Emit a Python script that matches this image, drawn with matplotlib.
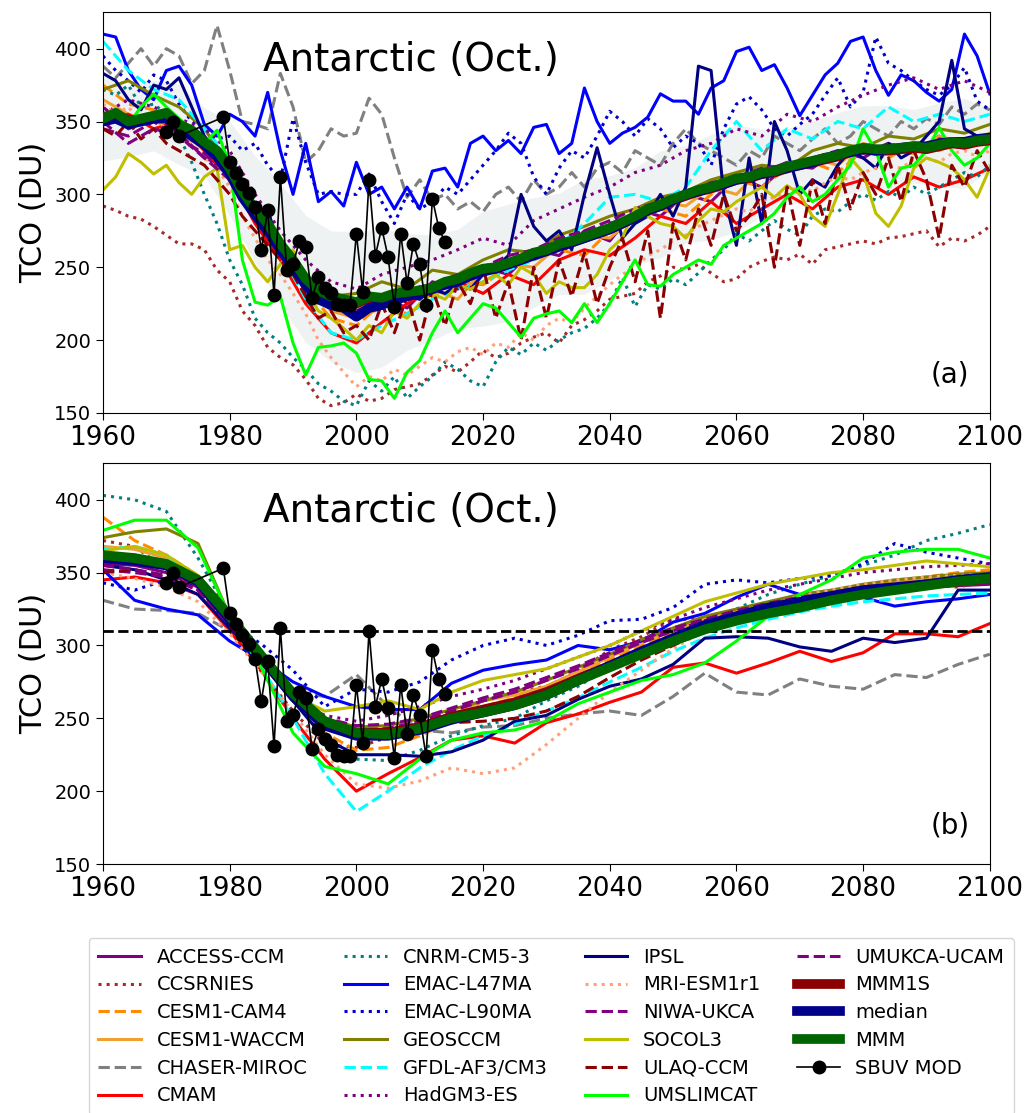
import matplotlib
matplotlib.use('Agg')
import matplotlib.pyplot as plt
import numpy as np

# Antarctic October total column ozone: raw model years (a) and smoothed, 1980-adjusted (b)
years_a2 = np.arange(1960, 2101, 2)
years_a4 = np.arange(1960, 2101, 4)
years_b = np.arange(1960, 2101, 5)

# ---- panel (a), two-year sampling ----
emac47_a = [410, 408, 385, 372, 365, 385, 388, 375, 348, 340, 355, 350, 340, 370, 330,
            300, 335, 295, 302, 292, 322, 300, 305, 290, 305, 290, 316, 318, 305, 335,
            340, 330, 337, 328, 346, 348, 328, 335, 373, 350, 335, 342, 346, 353, 369,
            364, 364, 355, 373, 378, 398, 401, 385, 389, 373, 354, 368, 382, 390, 405,
            408, 385, 368, 382, 378, 370, 364, 372, 410, 395, 369]
emac90_a = [395, 385, 378, 370, 382, 378, 362, 350, 345, 338, 340, 330, 335, 320, 310,
            352, 322, 300, 302, 300, 300, 314, 295, 280, 300, 290, 295, 305, 300, 310,
            320, 330, 342, 335, 312, 300, 318, 330, 325, 340, 357, 350, 340, 352, 345,
            332, 340, 335, 320, 345, 362, 367, 358, 345, 340, 348, 355, 368, 380, 360,
            370, 408, 390, 385, 378, 372, 368, 375, 387, 364, 358]
ipsl_a = [383, 378, 365, 358, 375, 372, 380, 360, 340, 330, 320, 300, 285, 290, 260,
          250, 232, 228, 225, 222, 215, 220, 225, 222, 230, 228, 235, 232, 238, 235,
          245, 250, 258, 300, 278, 268, 275, 262, 300, 332, 300, 270, 280, 285, 300,
          285, 305, 388, 385, 300, 265, 325, 280, 350, 330, 300, 310, 305, 320, 330,
          325, 318, 335, 325, 330, 340, 350, 392, 345, 340, 338]
chaser_a = [388, 380, 390, 400, 388, 400, 395, 376, 385, 416, 385, 350, 348, 345, 383,
            360, 322, 330, 345, 340, 342, 366, 355, 325, 298, 310, 296, 300, 290, 295,
            288, 300, 305, 295, 310, 300, 305, 315, 305, 318, 322, 315, 330, 325, 320,
            335, 345, 335, 330, 325, 320, 330, 325, 340, 335, 330, 338, 345, 335, 340,
            350, 345, 340, 350, 345, 352, 348, 360, 355, 362, 358]
ccsrnies_a = [292, 289, 285, 283, 278, 272, 266, 266, 262, 248, 240, 220, 210, 195, 188,
              183, 173, 160, 155, 157, 163, 158, 160, 166, 168, 170, 176, 182, 178, 185,
              193, 188, 191, 198, 202, 205, 198, 210, 214, 220, 228, 230, 232, 240, 244,
              250, 248, 252, 246, 240, 242, 250, 254, 257, 255, 259, 252, 262, 264, 266,
              268, 266, 270, 271, 273, 275, 264, 270, 268, 272, 278]
cnrm_a = [372, 368, 375, 360, 362, 355, 340, 322, 300, 280, 255, 238, 215, 205, 198,
          188, 180, 170, 165, 158, 155, 172, 165, 175, 160, 168, 175, 185, 180, 172,
          168, 185, 195, 190, 198, 193, 200, 205, 208, 215, 225, 243, 223, 238, 235,
          242, 238, 246, 255, 262, 273, 268, 275, 282, 276, 272, 285, 290, 288, 295,
          300, 296, 302, 298, 305, 300, 305, 310, 315, 312, 320]
umslimcat_a = [352, 355, 348, 360, 369, 360, 352, 345, 335, 344, 320, 255, 226, 224, 230,
               198, 176, 195, 196, 198, 191, 173, 172, 160, 178, 186, 205, 220, 205, 215,
               225, 222, 212, 202, 215, 218, 220, 212, 225, 212, 225, 240, 255, 238, 237,
               245, 250, 255, 252, 265, 270, 275, 280, 287, 298, 305, 295, 300, 310, 320,
               345, 330, 305, 318, 320, 330, 346, 330, 320, 325, 335]
socol3_a = [303, 312, 328, 322, 314, 320, 308, 300, 312, 318, 262, 265, 250, 240, 252,
            262, 235, 220, 215, 208, 200, 210, 205, 220, 215, 225, 232, 228, 238, 235,
            240, 245, 238, 250, 245, 232, 240, 236, 236, 245, 262, 270, 291, 285, 280,
            278, 270, 282, 290, 288, 295, 300, 305, 298, 306, 300, 285, 278, 300, 325,
            315, 287, 278, 292, 318, 325, 322, 318, 310, 298, 318]
ulaq_a = [345, 340, 350, 338, 345, 335, 330, 325, 320, 310, 300, 285, 275, 265, 255,
          245, 230, 215, 220, 205, 210, 200, 225, 205, 230, 200, 235, 210, 240, 225,
          250, 215, 240, 200, 250, 215, 255, 230, 260, 225, 250, 270, 240, 275, 215,
          280, 255, 290, 265, 300, 275, 285, 300, 250, 305, 265, 310, 280, 320, 290,
          315, 300, 325, 295, 330, 310, 270, 320, 305, 330, 315]
mri_a = [362, 355, 360, 350, 352, 345, 340, 335, 325, 318, 305, 285, 270, 255, 245,
         232, 218, 200, 188, 178, 168, 175, 172, 180, 176, 182, 188, 185, 192, 195,
         190, 198, 195, 205, 200, 210, 215, 212, 222, 230, 238, 245, 250, 258, 262,
         268, 272, 278, 282, 286, 290, 288, 295, 298, 302, 305, 302, 308, 312, 310,
         315, 318, 320, 318, 324, 325, 322, 328, 330, 326, 330]
mmm_a = [352, 356, 350, 352, 354, 356, 348, 344, 336, 330, 318, 302, 290, 280, 266,
         255, 242, 234, 230, 228, 226, 230, 229, 232, 233, 234, 236, 240, 242, 246,
         249, 250, 253, 256, 260, 262, 266, 268, 271, 274, 277, 281, 285, 290, 293,
         297, 300, 303, 305, 308, 311, 312, 315, 316, 319, 321, 323, 325, 327, 330,
         332, 331, 331, 332, 333, 332, 334, 336, 335, 337, 338]
median_a = [350, 352, 348, 350, 352, 352, 346, 340, 334, 326, 314, 298, 286, 275, 262,
            250, 238, 228, 224, 222, 216, 222, 224, 228, 230, 232, 235, 238, 240, 244,
            247, 249, 252, 255, 258, 261, 264, 267, 270, 273, 276, 280, 284, 289, 292,
            296, 300, 302, 305, 307, 310, 312, 314, 316, 318, 320, 322, 325, 327, 329,
            331, 330, 331, 332, 333, 333, 335, 336, 336, 338, 339]
mmm1s_a = [353, 355, 351, 351, 353, 355, 347, 343, 335, 329, 317, 301, 289, 279, 265,
           254, 241, 233, 229, 227, 225, 229, 228, 231, 232, 233, 235, 239, 241, 245,
           248, 249, 252, 255, 259, 261, 265, 267, 270, 273, 276, 280, 284, 289, 292,
           296, 299, 302, 304, 307, 310, 311, 314, 315, 318, 320, 322, 324, 326, 329,
           331, 330, 330, 331, 332, 331, 333, 335, 334, 336, 337]

# ---- panel (a), four-year sampling ----
access_a = [360, 345, 352, 342, 325, 318, 285, 260, 240, 225, 218, 230, 222, 240, 235, 250, 245, 262,
            258, 275, 268, 290, 285, 300, 295, 312, 305, 320, 318, 330, 325, 335, 328, 340, 332, 340]
cam4_a = [375, 362, 358, 348, 335, 322, 290, 255, 235, 215, 210, 225, 218, 230, 240, 238, 250, 255,
          262, 258, 275, 282, 290, 285, 300, 310, 305, 318, 322, 315, 330, 325, 335, 330, 338, 335]
waccm_a = [365, 355, 350, 345, 330, 318, 282, 262, 240, 220, 215, 222, 230, 235, 228, 248, 252, 250,
           265, 272, 270, 285, 295, 292, 305, 300, 318, 315, 325, 320, 335, 330, 328, 340, 335, 342]
cmam_a = [348, 355, 345, 350, 330, 312, 280, 255, 225, 205, 198, 212, 225, 235, 240, 232, 245, 238,
          255, 262, 258, 270, 285, 280, 295, 280, 290, 300, 290, 305, 310, 300, 312, 305, 310, 318]
geos_a = [372, 378, 368, 360, 345, 320, 290, 268, 245, 230, 232, 240, 235, 248, 245, 255, 262, 260,
          272, 278, 285, 290, 298, 302, 310, 315, 320, 318, 330, 335, 332, 340, 338, 345, 342, 348]
gfdl_a = [405, 385, 372, 365, 345, 325, 295, 260, 228, 205, 200, 210, 218, 228, 235, 240, 248, 255,
          265, 280, 298, 300, 295, 305, 330, 350, 330, 345, 338, 350, 345, 360, 350, 355, 350, 355]
hadgm3_a = [355, 365, 360, 352, 345, 330, 300, 275, 255, 240, 235, 245, 250, 255, 262, 270, 265, 282,
            290, 298, 305, 315, 320, 330, 335, 345, 340, 355, 350, 360, 368, 375, 380, 372, 378, 370]
niwa_a = [345, 340, 350, 338, 328, 312, 285, 262, 238, 225, 220, 228, 235, 238, 245, 250, 258, 262,
          270, 275, 282, 290, 295, 300, 308, 312, 318, 320, 325, 330, 328, 335, 330, 338, 336, 340]
umukca_a = [350, 335, 345, 340, 325, 310, 282, 258, 235, 222, 218, 225, 232, 236, 242, 248, 255, 258,
            265, 272, 280, 286, 292, 298, 305, 310, 315, 322, 320, 328, 332, 330, 335, 332, 338, 335]

# ---- panel (b), five-year sampling ----
access_b = [356, 355, 350, 340, 316, 290, 266, 248, 242, 240, 244, 250, 256, 262, 270,
            280, 288, 298, 306, 314, 320, 325, 330, 333, 336, 338, 340, 341, 342]
ccsrnies_b = [372, 368, 352, 340, 312, 282, 255, 232, 230, 237, 243, 250, 262, 268, 272,
              282, 297, 306, 318, 318, 318, 325, 328, 333, 338, 340, 342, 340, 345]
cam4_b = [388, 372, 362, 348, 318, 290, 262, 240, 228, 230, 238, 248, 258, 264, 272,
          282, 290, 300, 308, 316, 322, 328, 333, 337, 341, 344, 347, 350, 352]
waccm_b = [368, 366, 360, 348, 318, 292, 264, 245, 236, 238, 244, 252, 262, 266, 272,
           282, 292, 302, 310, 318, 323, 328, 332, 336, 340, 343, 345, 347, 349]
chaser_b = [331, 325, 324, 322, 310, 290, 268, 265, 280, 258, 242, 240, 244, 245, 250,
            253, 255, 252, 265, 281, 268, 266, 277, 272, 270, 280, 278, 287, 294]
cmam_b = [345, 347, 343, 335, 310, 283, 250, 222, 200, 212, 223, 235, 238, 233, 247,
          253, 261, 268, 285, 288, 281, 288, 296, 289, 295, 308, 308, 306, 315]
cnrm_b = [403, 400, 392, 360, 321, 290, 262, 238, 222, 221, 228, 238, 245, 250, 262,
          272, 285, 296, 305, 315, 325, 335, 342, 348, 355, 362, 372, 377, 383]
emac47_b = [352, 331, 325, 321, 303, 290, 275, 265, 258, 256, 256, 274, 283, 287, 290,
            300, 297, 303, 316, 322, 333, 342, 335, 336, 333, 327, 330, 332, 335]
emac90_b = [343, 338, 345, 340, 315, 301, 283, 258, 270, 268, 275, 290, 300, 305, 300,
            307, 317, 318, 326, 342, 345, 343, 346, 348, 356, 370, 364, 360, 356]
geos_b = [374, 378, 380, 370, 320, 292, 268, 250, 244, 245, 250, 256, 262, 268, 276,
          285, 294, 304, 312, 320, 325, 330, 335, 338, 342, 345, 347, 349, 350]
gfdl_b = [366, 368, 362, 345, 318, 285, 250, 212, 186, 200, 216, 228, 238, 246, 255,
          264, 275, 285, 296, 305, 312, 318, 323, 327, 330, 332, 334, 335, 336]
hadgm3_b = [362, 360, 356, 345, 318, 290, 265, 252, 248, 252, 258, 265, 270, 276, 284,
            292, 300, 310, 318, 326, 332, 338, 342, 346, 350, 352, 354, 355, 356]
ipsl_b = [355, 352, 345, 335, 312, 290, 262, 236, 225, 225, 224, 227, 235, 248, 252,
          263, 272, 277, 287, 305, 306, 305, 299, 296, 305, 302, 305, 338, 338]
mri_b = [350, 346, 340, 330, 308, 282, 254, 225, 205, 202, 207, 216, 212, 216, 232,
         250, 268, 283, 298, 310, 320, 328, 334, 338, 342, 345, 347, 348, 349]
niwa_b = [352, 350, 347, 338, 314, 290, 265, 248, 242, 243, 248, 255, 262, 268, 276,
          284, 293, 302, 310, 317, 322, 327, 331, 334, 337, 339, 341, 342, 343]
socol3_b = [365, 368, 362, 348, 320, 292, 266, 255, 258, 262, 256, 268, 276, 280, 284,
            292, 300, 310, 320, 330, 336, 342, 346, 350, 352, 355, 358, 356, 354]
ulaq_b = [350, 352, 348, 338, 314, 288, 262, 245, 240, 243, 245, 247, 248, 250, 255,
          265, 278, 290, 300, 310, 318, 325, 330, 334, 338, 341, 343, 345, 346]
umslimcat_b = [379, 386, 386, 367, 320, 285, 240, 217, 212, 205, 222, 235, 240, 242, 248,
               260, 268, 276, 280, 288, 303, 320, 335, 345, 360, 364, 366, 366, 360]
umukca_b = [355, 352, 348, 338, 314, 290, 266, 250, 245, 246, 250, 257, 264, 270, 278,
            286, 295, 304, 312, 318, 324, 329, 333, 336, 339, 341, 342, 343, 344]
mmm1s_b = [361, 359, 355, 344, 319, 292, 266, 247, 240, 240, 244, 251, 256, 261, 268,
           277, 286, 295, 304, 312, 318, 323, 328, 332, 336, 339, 342, 344, 346]
median_b = [360, 358, 355, 344, 318, 292, 265, 245, 238, 238, 242, 249, 254, 259, 266,
            276, 286, 296, 305, 314, 320, 326, 330, 334, 338, 340, 342, 345, 347]
mmm_b = [362, 360, 356, 345, 320, 293, 267, 248, 240, 239, 243, 250, 254, 259, 266,
         276, 285, 294, 303, 311, 317, 322, 326, 331, 335, 338, 341, 344, 346]

# SBUV merged ozone observations
sbuv_years = [1970, 1971, 1972] + list(range(1979, 2015))
sbuv_tco = [343, 350, 340,
            353, 322, 315, 307, 301, 291, 262, 289, 231, 312, 248, 252, 268, 264, 229, 243,
            236, 232, 225, 224, 224, 273, 233, 310, 258, 277, 257, 223, 273, 239, 266, 252,
            224, 297, 277, 267]
baseline_1980 = 310

# name, colour, linestyle, panel (a) series, panel (b) series
models = [
    ('ACCESS-CCM', 'purple', '-', access_a, access_b),
    ('CCSRNIES', 'brown', ':', ccsrnies_a, ccsrnies_b),
    ('CESM1-CAM4', 'darkorange', '--', cam4_a, cam4_b),
    ('CESM1-WACCM', '#f0a030', '-', waccm_a, waccm_b),
    ('CHASER-MIROC', 'grey', '--', chaser_a, chaser_b),
    ('CMAM', 'red', '-', cmam_a, cmam_b),
    ('CNRM-CM5-3', 'teal', ':', cnrm_a, cnrm_b),
    ('EMAC-L47MA', 'blue', '-', emac47_a, emac47_b),
    ('EMAC-L90MA', 'mediumblue', ':', emac90_a, emac90_b),
    ('GEOSCCM', 'olive', '-', geos_a, geos_b),
    ('GFDL-AF3/CM3', 'cyan', '--', gfdl_a, gfdl_b),
    ('HadGM3-ES', 'purple', ':', hadgm3_a, hadgm3_b),
    ('IPSL', 'navy', '-', ipsl_a, ipsl_b),
    ('MRI-ESM1r1', 'lightsalmon', ':', mri_a, mri_b),
    ('NIWA-UKCA', 'purple', '--', niwa_a, niwa_b),
    ('SOCOL3', 'y', '-', socol3_a, socol3_b),
    ('ULAQ-CCM', 'darkred', '--', ulaq_a, ulaq_b),
    ('UMSLIMCAT', 'lime', '-', umslimcat_a, umslimcat_b),
    ('UMUKCA-UCAM', 'purple', '--', umukca_a, umukca_b),
]
means = [
    ('MMM1S', 'darkred', mmm1s_a, mmm1s_b),
    ('median', 'darkblue', median_a, median_b),
    ('MMM', 'darkgreen', mmm_a, mmm_b),
]


def years_for(series):
    return years_a2 if len(series) == len(years_a2) else years_a4


fig = plt.figure(figsize=(10.24, 11.13), dpi=100)
ax1 = fig.add_axes([0.1006, 0.629, 0.866, 0.360])
ax2 = fig.add_axes([0.1006, 0.2237, 0.866, 0.360])

# spread of the models around the mean, on the common four-year grid
stack = np.array([np.asarray(m[3])[::2] if len(m[3]) == len(years_a2) else np.asarray(m[3])
                  for m in models], dtype=float)
spread = stack.std(axis=0)
centre = np.asarray(mmm_a, dtype=float)[::2]
ax1.fill_between(years_a4, centre - spread, centre + spread, color='#d5dddd',
                 alpha=0.38, lw=0, zorder=0)

handles = []
for name, col, ls, sa, sb in models:
    h, = ax1.plot(years_for(sa), sa, color=col, ls=ls, lw=2.2, label=name, zorder=2)
    ax2.plot(years_b, sb, color=col, ls=ls, lw=2.2, zorder=2)
    handles.append(h)

ax2.axhline(baseline_1980, color='k', ls='--', lw=2, zorder=3)

for name, col, sa, sb in means:
    h, = ax1.plot(years_a2, sa, color=col, lw=7, label=name, zorder=4)
    ax2.plot(years_b, sb, color=col, lw=7, zorder=4)
    handles.append(h)

for ax in (ax1, ax2):
    h, = ax.plot(sbuv_years, sbuv_tco, 'k-o', lw=1.2, ms=9, zorder=5, label='SBUV MOD')
handles.append(h)

for ax, tag in ((ax1, '(a)'), (ax2, '(b)')):
    ax.set_xlim(1960, 2100)
    ax.set_ylim(150, 425)
    ax.set_xticks(np.arange(1960, 2101, 20))
    ax.set_yticks(np.arange(150, 401, 50))
    ax.tick_params(axis='x', labelsize=19, length=5)
    ax.tick_params(axis='y', labelsize=14, length=5)
    ax.set_ylabel('TCO (DU)', fontsize=22)
    ax.text(0.18, 0.88, 'Antarctic (Oct.)', transform=ax.transAxes, fontsize=28,
            va='center', ha='left', zorder=10)
    ax.text(0.955, 0.095, tag, transform=ax.transAxes, fontsize=20,
            ha='center', va='center', zorder=10)

fig.legend(handles, [h.get_label() for h in handles], ncol=4, loc='upper left',
           bbox_to_anchor=(0.077, 0.166), fontsize=14, handlelength=2.2,
           labelspacing=0.45, columnspacing=1.9, borderpad=0.5)

fig.savefig('out.png', dpi=100)
